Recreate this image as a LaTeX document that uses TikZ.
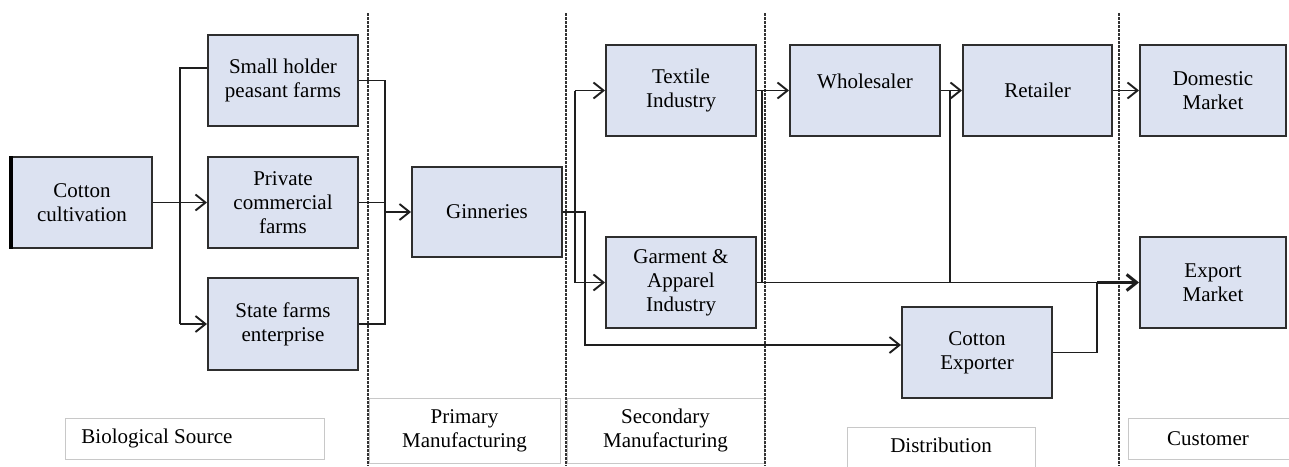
\documentclass[tikz,border=0pt]{standalone}
\usepackage{fontspec}
\setmainfont{Liberation Serif}
\usetikzlibrary{arrows.meta,calc}
\definecolor{boxfill}{HTML}{DCE2F1}
\definecolor{boxline}{HTML}{2E2E2E}
\definecolor{ln}{HTML}{1E1E1E}
\definecolor{lblline}{HTML}{C8C8C8}
\begin{document}
\begin{tikzpicture}[x=1pt,y=-1pt,
  box/.style={draw=boxline, fill=boxfill, line width=2pt, inner sep=0pt, align=center, font=\fontsize{21}{24}\selectfont},
  lbl/.style={draw=lblline, fill=white, line width=1pt, inner sep=0pt, align=center, font=\fontsize{21}{24}\selectfont},
  conn/.style={draw=ln, line width=1.9pt},
  arr/.style={conn, -{Straight Barb[length=10pt,width=16pt]}},
  divider/.style={draw=black!80, line width=1.6pt, dash pattern=on 2.5pt off 1.5pt}]

\useasboundingbox (0,0) rectangle (1289,466);

% stage labels
\node[lbl, minimum width=259, minimum height=41] (bio) at (194.5,438.5) {Biological Source\hspace*{75pt}};
\node[lbl, minimum width=191, minimum height=65] (pri) at (464.5,430.5) {Primary\\Manufacturing};
\node[lbl, minimum width=197, minimum height=65] (sec) at (665.5,430.5) {Secondary\\Manufacturing};
\node[lbl, minimum width=188, minimum height=48] (dis) at (941,451) {\raisebox{6pt}[\height][\depth]{Distribution}};
\node[lbl, minimum width=172, minimum height=41] (cus) at (1214,438.5) {Customer\hspace*{12pt}};

% dividers
\coordinate (d1t) at (368,13); \coordinate (d1b) at (368,466);
\coordinate (d2t) at (566,13); \coordinate (d2b) at (566,466);
\coordinate (d3t) at (765,13); \coordinate (d3b) at (765,466);
\coordinate (d4t) at (1119,13); \coordinate (d4b) at (1119,466);
\draw[divider] (d1t) -- (d1b);
\draw[divider] (d2t) -- (d2b);
\draw[divider] (d3t) -- (d3b);
\draw[divider] (d4t) -- (d4b);

% main boxes
\node[box, minimum width=140, minimum height=91] (cc) at (82,202.5) {Cotton\\cultivation};
\node[box, minimum width=150, minimum height=91] (sh) at (283,80.5) {Small holder\\peasant farms};
\node[box, minimum width=150, minimum height=91] (pc) at (283,202.5) {Private\\commercial\\farms};
\node[box, minimum width=150, minimum height=92] (sf) at (283,324) {State farms\\enterprise};
\node[box, minimum width=150, minimum height=90] (gin) at (487,212) {Ginneries};
\node[box, minimum width=150, minimum height=91] (tex) at (681,90.5) {Textile\\Industry};
\node[box, minimum width=150, minimum height=91] (gar) at (681,282.5) {Garment \&\\Apparel\\Industry};
\node[box, minimum width=150, minimum height=91] (who) at (865,90.5) {\raisebox{2.5pt}[0pt][0pt]{Wholesaler}};
\node[box, minimum width=149, minimum height=91] (ret) at (1037.5,90.5) {Retailer};
\node[box, minimum width=146, minimum height=91] (dom) at (1213,90.5) {Domestic\\Market};
\node[box, minimum width=146, minimum height=91] (exp) at (1213,282.5) {Export\\Market};
\node[box, minimum width=150, minimum height=91] (cex) at (977,352.5) {Cotton\\Exporter};
\draw[draw=black, line width=4pt] (cc.north west) -- (cc.south west);

% bus coordinates
\coordinate (lb) at (180,0);
\coordinate (rb) at (385,0);
\coordinate (gb) at (575,0);
\coordinate (gx) at (585,0);
\coordinate (tv) at (762,0);
\coordinate (wv) at (950,0);
\coordinate (ev) at (1097,0);
\coordinate (cin) at ([yshift=7.5pt]cex.west);

% connectors
\draw[arr] (cc.east) -- (pc.west);
\draw[conn] ([yshift=12.5pt]sh.west) -| (sf.west -| lb);
\draw[arr] (sf.west -| lb) -- (sf.west);

\draw[conn] (sh.east) -| (sf.east -| rb) -- (sf.east);
\draw[conn] (pc.east) -- (pc.east -| rb);
\draw[arr] (gin.west -| rb) -- (gin.west);

\draw[arr] (gin.east) -| (cin -| gx) -- (cin);
\draw[conn] (tex.west -| gb) -- (gar.west -| gb);
\draw[arr] (tex.west -| gb) -- (tex.west);
\draw[arr] (gar.west -| gb) -- (gar.west);

\draw[arr] (tex.east) -- (who.west);
\draw[conn] (tex.east -| tv) -- (gar.east -| tv);
\draw[conn] (gar.east) -- (exp.west -| ev);
\draw[arr, line width=3pt] (exp.west -| ev) -- (exp.west);

\draw[arr] (who.east) -- (ret.west);
\draw[conn] (who.east -| wv) -- (exp.west -| wv);
\draw[arr] (ret.east) -- (dom.west);
\draw[conn] (cex.east) -| (exp.west -| ev);
\end{tikzpicture}
\end{document}
